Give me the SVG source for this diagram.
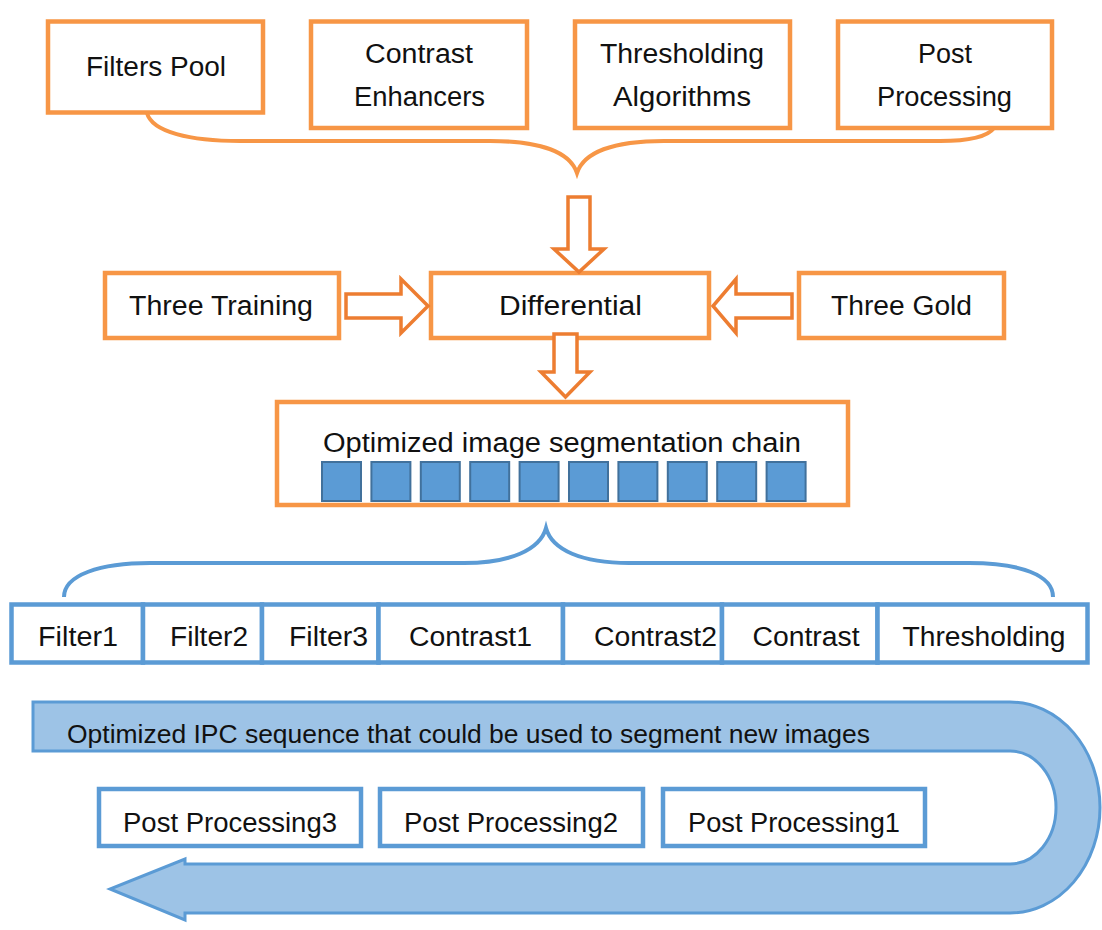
<svg xmlns="http://www.w3.org/2000/svg" width="1102" height="930" viewBox="0 0 1102 930">
<style>
.ob{fill:#fff;stroke:#F79646;stroke-width:4.5}
.bb{fill:#fff;stroke:#5B9BD5;stroke-width:4.5}
.oa{fill:#fff;stroke:#ED7D31;stroke-width:3.5;stroke-linejoin:miter}
.br{fill:none;stroke-width:4}
.sq{fill:#5B9BD5;stroke:#41719C;stroke-width:2}
text{font-family:"Liberation Sans",Arial,sans-serif;font-size:27px;fill:#111}
.s{font-size:25px}
</style>
<rect width="1102" height="930" fill="#fff"/>
<g id="filters-pool"><rect class="ob" x="48" y="21.5" width="215" height="91"/><text x="86" y="76" textLength="140" lengthAdjust="spacingAndGlyphs">Filters Pool</text></g>
<g id="contrast-enhancers"><rect class="ob" x="311" y="21.5" width="216" height="106.5"/><text x="365" y="63" textLength="108" lengthAdjust="spacingAndGlyphs">Contrast</text><text x="354" y="106" textLength="131" lengthAdjust="spacingAndGlyphs">Enhancers</text></g>
<g id="thresholding-algorithms"><rect class="ob" x="575" y="21.5" width="215" height="106.5"/><text x="600" y="63" textLength="164" lengthAdjust="spacingAndGlyphs">Thresholding</text><text x="613" y="106" textLength="138" lengthAdjust="spacingAndGlyphs">Algorithms</text></g>
<g id="post-processing"><rect class="ob" x="838" y="21.5" width="214" height="106.5"/><text x="918" y="63" textLength="54" lengthAdjust="spacingAndGlyphs">Post</text><text x="877" y="106" textLength="135" lengthAdjust="spacingAndGlyphs">Processing</text></g>
<g id="three-training"><rect class="ob" x="105" y="273" width="234" height="65"/><text x="129" y="315" textLength="184" lengthAdjust="spacingAndGlyphs">Three Training</text></g>
<g id="differential"><rect class="ob" x="431" y="273" width="278" height="65"/><text x="499" y="315" textLength="143" lengthAdjust="spacingAndGlyphs">Differential</text></g>
<g id="three-gold"><rect class="ob" x="799" y="273" width="205" height="65"/><text x="831" y="315" textLength="141" lengthAdjust="spacingAndGlyphs">Three Gold</text></g>
<g id="chain"><rect class="ob" x="277" y="402" width="571" height="103"/><text x="323" y="452" textLength="478" lengthAdjust="spacingAndGlyphs">Optimized image segmentation chain</text>
<rect class="sq" x="322" y="462" width="39" height="39"/><rect class="sq" x="371.4" y="462" width="39" height="39"/><rect class="sq" x="420.8" y="462" width="39" height="39"/><rect class="sq" x="470.2" y="462" width="39" height="39"/><rect class="sq" x="519.6" y="462" width="39" height="39"/><rect class="sq" x="569" y="462" width="39" height="39"/><rect class="sq" x="618.4" y="462" width="39" height="39"/><rect class="sq" x="667.8" y="462" width="39" height="39"/><rect class="sq" x="717.2" y="462" width="39" height="39"/><rect class="sq" x="766.6" y="462" width="39" height="39"/></g>
<g id="filter1"><rect class="bb" x="11.5" y="604.5" width="131.5" height="58"/><text x="38" y="646" textLength="80" lengthAdjust="spacingAndGlyphs">Filter1</text></g>
<g id="filter2"><rect class="bb" x="143" y="604.5" width="119" height="58"/><text x="170" y="646" textLength="78" lengthAdjust="spacingAndGlyphs">Filter2</text></g>
<g id="filter3"><rect class="bb" x="262" y="604.5" width="116.5" height="58"/><text x="289" y="646" textLength="79" lengthAdjust="spacingAndGlyphs">Filter3</text></g>
<g id="contrast1"><rect class="bb" x="378.5" y="604.5" width="184.5" height="58"/><text x="409" y="646" textLength="123" lengthAdjust="spacingAndGlyphs">Contrast1</text></g>
<g id="contrast2"><rect class="bb" x="563" y="604.5" width="159" height="58"/><text x="594" y="646" textLength="123" lengthAdjust="spacingAndGlyphs">Contrast2</text></g>
<g id="contrast"><rect class="bb" x="722" y="604.5" width="155.5" height="58"/><text x="752.5" y="646" textLength="107" lengthAdjust="spacingAndGlyphs">Contrast</text></g>
<g id="thresholding"><rect class="bb" x="877.5" y="604.5" width="210" height="58"/><text x="902.5" y="646" textLength="163" lengthAdjust="spacingAndGlyphs">Thresholding</text></g>
<g id="connectors">
<path class="br" stroke="#F79646" d="M147 113 C152 132 190 141 240 141 L490 141 C540 141 570 152 577 173 C584 152 614 141 664 141 L940 141 C972 141 988 136 994 128"/>
<polygon class="oa" points="568,197 590,197 590,249 604,249 579,272 554,249 568,249"/>
<polygon class="oa" points="346,294 401,294 401,279 428,306 401,333 401,318 346,318"/>
<polygon class="oa" points="792,294 736,294 736,279 713,306 736,333 736,318 792,318"/>
<polygon class="oa" points="554,334 577,334 577,372 590,372 565.5,397 541,372 554,372"/>
<path class="br" stroke="#5B9BD5" d="M64 597 C64 575 100 563 150 563 L464 563 C510 563 540 550 546 528 C552 550 582 563 629 563 L969 563 C1020 563 1053 575 1053 597"/>
<path fill="#9DC3E6" stroke="#5B9BD5" stroke-width="3" d="M33 702 L1010 702 A90 105.5 0 0 1 1010 913 L185 913 L185 920 L110 889 L185 859 L185 864 L1010 864 A46 56.5 0 0 0 1010 751 L33 751 Z"/>
</g>
<text class="s" x="67" y="743" textLength="803" lengthAdjust="spacingAndGlyphs">Optimized IPC sequence that could be used to segment new images</text>
<g id="pp3"><rect class="bb" x="99" y="789" width="262" height="57"/><text x="123" y="832" textLength="214" lengthAdjust="spacingAndGlyphs">Post Processing3</text></g>
<g id="pp2"><rect class="bb" x="380" y="789" width="263" height="57"/><text x="404" y="832" textLength="214" lengthAdjust="spacingAndGlyphs">Post Processing2</text></g>
<g id="pp1"><rect class="bb" x="663" y="789" width="262" height="57"/><text x="688" y="832" textLength="212" lengthAdjust="spacingAndGlyphs">Post Processing1</text></g>
</svg>
